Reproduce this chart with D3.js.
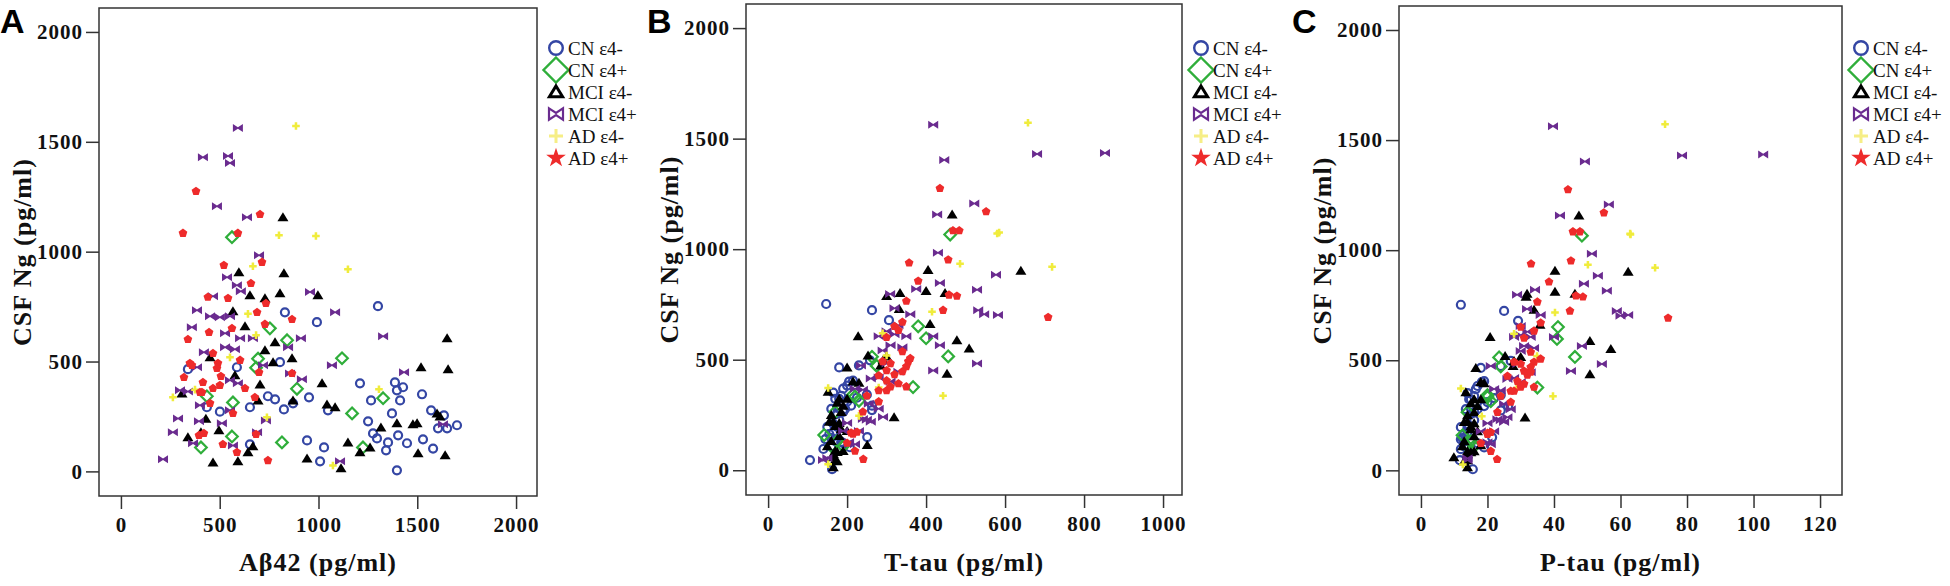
<!DOCTYPE html>
<html>
<head>
  <meta charset="utf-8">
  <title>CSF Ng vs Abeta42 / T-tau / P-tau</title>
  <script src="https://d3js.org/d3.v7.min.js"></script>
  <style>
    body { margin: 0; background: #fff; }
    svg { display: block; }
    .tick text { font-family: "Liberation Serif", "Times New Roman", serif; font-weight: bold; font-size: 21px; letter-spacing: 1px; fill: #111; }
    .tick line { stroke: #333; stroke-width: 1.5px; }
    .axis-title { font-family: "Liberation Serif", "Times New Roman", serif; font-weight: bold; font-size: 26px; letter-spacing: 1px; fill: #111; }
    .panel-letter { font-family: "Liberation Sans", Arial, sans-serif; font-weight: bold; font-size: 34px; fill: #000; }
    .legend text { font-family: "Liberation Serif", "Times New Roman", serif; font-size: 19px; fill: #111; }
    .frame { fill: none; stroke: #333; stroke-width: 1.5px; }
  </style>
</head>
<body>
<div id="chart"></div>
<script>
// ---------------- data ----------------
// each row: [Abeta42, T-tau, P-tau, Ng]  (pg/ml)
const cnNeg = [
  [1301,147,12.0,752],[830,263,25.0,724],[992,306,29.2,679],[805,258,27,497],[587,230,24,474],
  [339,180,18,465],[1210,205,18.3,401],[1387,215,19,405],[1428,200,17,383],[1397,190,16.5,369],
  [435,263,26.2,292],[744,250,24,342],[780,225,22,328],[871,200,20,310],[952,185,16,337],
  [825,175,15,282],[653,210,19,292],[1048,195,17,278],[1266,180,15,323],[1413,170,14.5,323],
  [1524,165,14,351],[1372,190,16,264],[1570,160,13.5,278],[1635,175,15,255],[1251,180,16,228],
  [1276,165,14,173],[1296,251,21.4,150],[1352,170,13,132],[1403,155,13,164],[1448,185,15,128],
  [1529,160,12.5,146],[1605,150,12,196],[1651,175,14,196],[1701,165,14,210],[1342,140,12,96],
  [1580,207,19,104],[1397,162,15.6,5],[942,145,12,141],[1028,160,13,109],[1008,106,11.7,46],
  [653,190,17,123],[501,263,24,272]
];
const cnPos = [
  [562,461,48.4,1066],[754,380,41.2,651],[841,400,40.9,597],[694,263,23.5,513],[1119,456,46.3,515],
  [684,275,24,472],[891,367,35,376],[435,215,20,342],[567,230,21,314],[1327,220,20,333],
  [1170,170,14,264],[562,142,12.5,159],[815,175,15,132],[1225,190,16,109],[405,160,14,109]
];
const mciNeg = [
  [820,466,47.5,1157],[597,405,40.3,906],[825,640,62.3,902],[997,448,46.3,802],[805,400,40.3,811],
  [653,334,31.9,802],[729,300,31.6,788],[567,332,34.0,729],[628,410,35.8,661],[1651,228,20.8,606],
  [780,478,50.8,588],[729,509,57.1,551],[451,253,25.3,519],[770,291,28,497],[866,300,30,515],
  [1519,285,27.7,474],[1656,200,16.5,465],[577,453,50.8,437],[1018,215,18,401],[704,230,19,396],
  [309,152,13.5,355],[694,180,16,323],[871,200,18,323],[1043,175,15,305],[1084,190,17,292],
  [1600,185,16,264],[1615,160,14,250],[1316,170,15,200],[1397,155,13,219],[1478,180,16,214],
  [1499,165,14,219],[1504,175,15,82],[1641,165,14,73],[1149,160,13,132],[1210,170,14,87],
  [1261,150,12.5,109],[942,165,9.9,59],[1114,165,14,14],[668,251,18,114],[643,190,16,87],
  [592,170,14,46],[466,175,13,41],[339,180,16,155],[430,319,31.3,240],[405,200,17,178],
  [496,185,15,187]
];
const mciPos = [
  [592,418,39.7,1563],[415,681,78.5,1430],[542,853,102.9,1435],[552,446,49.3,1403],[486,522,56.5,1207],
  [638,428,41.8,1157],[699,430,51.4,984],[537,577,53.2,884],[587,435,49.0,847],[607,375,34.3,820],
  [957,529,55.9,816],[466,309,28.9,797],[385,320,31.9,733],[1084,532,58.9,724],[451,547,62.3,706],
  [501,582,60,702],[552,360,36,706],[359,330,30,656],[527,300,32,629],[603,418,40,606],
  [668,350,33,606],[911,280,28,606],[1327,320,30,615],[527,435,48.4,565],[577,340,34,556],
  [846,310,31,565],[420,290,30,542],[719,529,54.4,483],[1068,300,29,483],[385,235,21,474],
  [1433,418,45.1,451],[856,330,33,446],[916,280,28,419],[552,260,26,415],[592,310,30,401],
  [299,220,22,369],[339,240,24,364],[400,255,25,301],[1630,200,20,214],[1109,139,14,46],
  [689,230,22,178],[567,220,21,118],[365,205,20,128],[263,190,18,178],[289,291,26,241],
  [395,250,24,228],[511,260,25,219],[552,280,27,278],[734,240,23,232],[213,150,14,55]
];
const adNeg = [
  [886,658,73.4,1572],[800,585,62.9,1075],[987,580,63,1071],[668,486,50.2,934],[1149,719,70.4,920],
  [643,415,40.3,717],[684,290,28,620],[552,300,34.9,519],[375,152,12.0,372],[263,443,39.7,337],
  [739,230,18.3,246],[1073,152,12.6,27],[1306,280,28.8,374]
];
const adPos = [
  [380,435,44.2,1275],[704,552,55.0,1170],[314,468,45.7,1084],[592,484,47.8,1084],[714,456,45.1,952],
  [521,357,33.1,938],[658,380,38.5,856],[440,458,46.6,793],[542,478,48.7,788],[734,350,35,765],
  [866,709,74.3,692],[689,443,44.8,724],[562,320,30,651],[446,330,34,633],[729,340,36,670],
  [339,300,31,601],[466,340,33,537],[491,355,34,492],[603,360,36,506],[359,310,30,483],
  [486,350,33,469],[319,280,26,428],[506,320,32,433],[699,300,31,451],[866,340,33,446],
  [501,330,31,392],[628,350,34,378],[400,300,28,360],[466,310,30,378],[451,280,27,310],
  [678,250,24,337],[567,240,23,264],[395,215,20,164],[420,225,21,173],[684,210,20,169],
  [587,220,21,87],[516,200,18,123],[744,241,22.9,50],[349,290,28,492],[415,300,29,405],
  [410,280,27,360]
];

const ngTicks = [0, 500, 1000, 1500, 2000];
const abTicks = [0, 500, 1000, 1500, 2000];
const ttauTicks = [0, 200, 400, 600, 800, 1000];
const ptauTicks = [0, 20, 40, 60, 80, 100, 120];

// ---------------- styling / layout ----------------
const W = 1950, H = 586;

// marker shapes (centred on 0,0)
const shapes = {
  circle: r => `M${r},0A${r},${r} 0 1,1 ${-r},0A${r},${r} 0 1,1 ${r},0Z`,
  diamond: r => `M0,${-r}L${r},0L0,${r}L${-r},0Z`,
  triangle: r => `M0,${-r}L${r * 1.1},${r * 0.8}L${-r * 1.1},${r * 0.8}Z`,
  bowtie: r => `M${-r},${-r * 0.8}L0,${-r * 0.15}L${r},${-r * 0.8}L${r},${r * 0.8}L0,${r * 0.15}L${-r},${r * 0.8}Z`,
  cross: r => `M${-r},0L${r},0M0,${-r}L0,${r}`,
  pentagon: r => d3.range(5).map(i => {
    const a = -Math.PI / 2 + i * 2 * Math.PI / 5;
    return (i ? "L" : "M") + (r * Math.cos(a)).toFixed(2) + "," + (r * Math.sin(a)).toFixed(2);
  }).join("") + "Z"
};

const groups = [
  { name: "CN ε4-",  rows: cnNeg,  color: "#3446a4",
    mark: { d: shapes.circle(4), fill: "none", sw: 2.2 },
    key:  { d: shapes.circle(6.8), fill: "none", sw: 2.4 } },
  { name: "CN ε4+",  rows: cnPos,  color: "#2fae3a",
    mark: { d: shapes.diamond(5.8), fill: "none", sw: 2.2 },
    key:  { d: shapes.diamond(12.5), fill: "none", sw: 2.4 } },
  { name: "MCI ε4-", rows: mciNeg, color: "#000000",
    mark: { d: shapes.triangle(5), fill: "#000", sw: 0 },
    key:  { d: shapes.triangle(6), fill: "none", sw: 3 } },
  { name: "MCI ε4+", rows: mciPos, color: "#6a2b8f",
    mark: { d: shapes.bowtie(5), fill: "#6a2b8f", sw: 0 },
    key:  { d: shapes.bowtie(7), fill: "none", sw: 2.2 } },
  { name: "AD ε4-",  rows: adNeg,  color: "#f0ec3c",
    mark: { d: d3.symbol(d3.symbolCross, 32)(), fill: "#f0ec3c", sw: 0 },
    key:  { d: shapes.cross(7), fill: "none", sw: 3, stroke: "#f6ee86" } },
  { name: "AD ε4+",  rows: adPos,  color: "#ee2b2b",
    mark: { d: shapes.pentagon(4.6), fill: "#ee2b2b", sw: 0 },
    key:  { d: d3.symbol(d3.symbolStar, 120)(), fill: "#ee2b2b", sw: 0 } }
];

const ngDomain = [-112, 2109];

const panels = [
  { letter: "A", letterX: 0,    col: 0, title: "Aβ42 (pg/ml)",  ticks: abTicks,   xDomain: [-111, 2106],
    x0: 99,   x1: 537,  y0: 8, y1: 496 },
  { letter: "B", letterX: 647,  col: 1, title: "T-tau (pg/ml)", ticks: ttauTicks, xDomain: [-56, 1048],
    x0: 746,  x1: 1182, y0: 4, y1: 495 },
  { letter: "C", letterX: 1292, col: 2, title: "P-tau (pg/ml)", ticks: ptauTicks, xDomain: [-6.6, 126.6],
    x0: 1399, x1: 1842, y0: 6, y1: 495 }
];

// ---------------- draw ----------------
const svg = d3.select("#chart").append("svg")
  .attr("width", W)
  .attr("height", H);

panels.forEach(p => {
  const x = d3.scaleLinear().domain(p.xDomain).range([p.x0, p.x1]);
  const y = d3.scaleLinear().domain(ngDomain).range([p.y1, p.y0]);

  const g = svg.append("g").attr("class", "panel");

  // x axis (ticks hang below the frame)
  const xAxis = g.append("g")
    .attr("transform", `translate(0,${p.y1})`)
    .call(d3.axisBottom(x).tickValues(p.ticks).tickSize(13).tickPadding(8).tickFormat(d3.format("d")));
  xAxis.select(".domain").remove();

  // y axis
  const yAxis = g.append("g")
    .attr("transform", `translate(${p.x0},0)`)
    .call(d3.axisLeft(y).tickValues(ngTicks).tickSize(13).tickPadding(3).tickFormat(d3.format("d")));
  yAxis.select(".domain").remove();

  // frame
  g.append("rect").attr("class", "frame")
    .attr("x", p.x0).attr("y", p.y0)
    .attr("width", p.x1 - p.x0).attr("height", p.y1 - p.y0);

  // points
  groups.forEach(grp => {
    g.append("g").selectAll("path")
      .data(grp.rows)
      .join("path")
        .attr("d", grp.mark.d)
        .attr("transform", d => `translate(${x(d[p.col])},${y(d[3])})`)
        .attr("fill", grp.mark.fill)
        .attr("stroke", grp.mark.sw ? grp.color : "none")
        .attr("stroke-width", grp.mark.sw);
  });

  // axis titles
  g.append("text").attr("class", "axis-title")
    .attr("x", (p.x0 + p.x1) / 2).attr("y", 571)
    .attr("text-anchor", "middle")
    .text(p.title);

  g.append("text").attr("class", "axis-title")
    .attr("transform", `translate(${p.x0 - 68},${(p.y0 + p.y1) / 2}) rotate(-90)`)
    .attr("text-anchor", "middle")
    .text("CSF Ng (pg/ml)");

  // panel letter
  g.append("text").attr("class", "panel-letter")
    .attr("x", p.letterX).attr("y", 33)
    .text(p.letter);

  // legend
  const lg = g.append("g").attr("class", "legend")
    .attr("transform", `translate(${p.x1},0)`);
  const item = lg.selectAll("g")
    .data(groups)
    .join("g")
      .attr("transform", (d, i) => `translate(0,${55 + i * 22})`);
  item.append("path")
    .attr("d", d => d.key.d)
    .attr("transform", "translate(19,-7)")
    .attr("fill", d => d.key.fill)
    .attr("stroke", d => d.key.sw ? (d.key.stroke || d.color) : "none")
    .attr("stroke-width", d => d.key.sw);
  item.append("text")
    .attr("x", 31).attr("y", 0)
    .text(d => d.name);
});
</script>
</body>
</html>
